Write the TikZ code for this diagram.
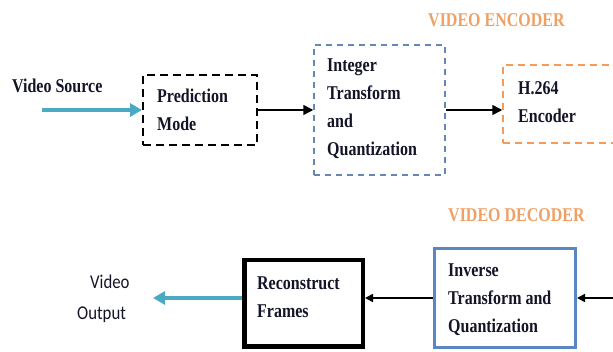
\documentclass[tikz,border=0pt]{standalone}
\usepackage{fontspec}
\setmainfont{Liberation Serif}
\newfontfamily\boxfont[FakeStretch=0.82]{Liberation Serif}
\newfontfamily\outfont[FakeStretch=0.86]{Carlito}
\usetikzlibrary{arrows.meta}

\definecolor{titleorange}{RGB}{240,160,100}
\definecolor{encorange}{RGB}{245,155,85}
\definecolor{dashblue}{RGB}{100,135,180}
\definecolor{decblue}{RGB}{90,135,195}
\definecolor{flowteal}{RGB}{75,170,195}
\definecolor{inkdark}{RGB}{20,20,40}

\tikzset{
  % multi-line labels are anchored at the baseline of their last line
  lbl/.style={anchor=base west, inner sep=0pt, align=left, text=inkdark,
    font=\boxfont\fontsize{19.5}{28}\selectfont\bfseries},
  title/.style={anchor=base west, inner sep=0pt, text=titleorange,
    font=\boxfont\fontsize{19.5}{22}\selectfont\bfseries},
  outlbl/.style={anchor=base west, inner sep=0pt, text=inkdark,
    font=\outfont\fontsize{19.5}{22}\selectfont},
  blockbox/.style={rectangle, inner sep=0pt},
  flow/.style={line width=1.6pt, -{Triangle[length=10pt,width=10pt]}},
  backflow/.style={line width=1.6pt, -{Triangle[length=8pt,width=8pt]}},
  tealflow/.style={flowteal, line width=4pt, -{Triangle[length=12pt,width=13pt]}}
}

\begin{document}
\begin{tikzpicture}[x=1pt, y=-1pt]
  \useasboundingbox (0,0) rectangle (613,352);
  \clip (0,0) rectangle (613,352);

  % encoder chain
  \node[blockbox, draw=black, line width=2pt, dash pattern=on 8pt off 5pt,
        minimum width=114pt, minimum height=70pt] (pred) at (200,110) {};
  \node[blockbox, draw=dashblue, line width=1.5pt, dash pattern=on 6pt off 5pt,
        minimum width=131pt, minimum height=130pt] (itq) at (379.5,110) {};
  \node[blockbox, draw=encorange, line width=1.5pt, dash pattern=on 7pt off 5pt,
        minimum width=140pt, minimum height=78pt] (enc) at (573,104) {};

  \node[lbl] (srcl) at (12,93) {Video Source};
  \node[lbl] (predl) at (157,131) {Prediction\\Mode};
  \node[lbl] (itql) at (327,156) {Integer\\Transform\\and\\Quantization};
  \node[lbl] (encl) at (518,123) {H.264\\Encoder};
  \node[title] (enctitle) at (428,27) {VIDEO ENCODER};

  \coordinate (src) at (42,110);
  \draw[tealflow] (src) -- (pred.west);
  \draw[flow] (pred.east) -- (itq.west);
  \draw[flow] (itq.east) -- (itq.east -| enc.west);

  % decoder chain
  \node[blockbox, draw=decblue, line width=3pt,
        minimum width=141pt, minimum height=99pt] (inv) at (505,298) {};
  \node[blockbox, draw=black, line width=4.5pt,
        minimum width=118.5pt, minimum height=86.5pt] (rec) at (303.5,303.5) {};

  \node[title] (dectitle) at (448,222) {VIDEO DECODER};
  \node[lbl] (invl) at (448,333) {Inverse\\Transform and\\Quantization};
  \node[lbl] (recl) at (257,318) {Reconstruct\\Frames};
  \node[outlbl] (outv) at (90,289) {Video};
  \node[outlbl] (outo) at (77,320) {Output};

  \coordinate (decin) at (625,298);
  \coordinate (sink) at (153,298);
  \draw[backflow] (decin) -- (inv.east);
  \draw[backflow] (inv.west) -- (inv.west -| rec.east);
  \draw[tealflow] (rec.west |- inv.west) -- (sink);
\end{tikzpicture}
\end{document}
